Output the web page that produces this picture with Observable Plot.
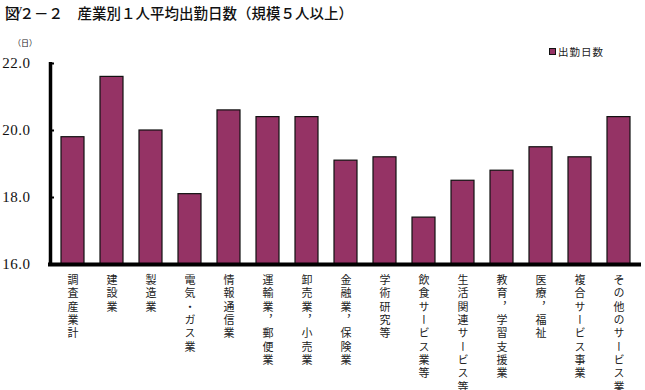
<!DOCTYPE html>
<html><head><meta charset="utf-8">
<script src="https://cdn.jsdelivr.net/npm/d3@7"></script>
<script src="https://cdn.jsdelivr.net/npm/@observablehq/plot@0.6"></script>
<style>
body{margin:0;background:#fff;}
#wrap{position:relative;width:645px;height:390px;overflow:hidden;}
#title{position:absolute;left:5px;top:2px;font:500 14.5px "Noto Sans CJK JP";color:#111;white-space:nowrap;}
#unit{position:absolute;left:13px;top:37px;font:8px "Noto Sans CJK JP";color:#222;}
#legend{position:absolute;left:549px;top:44px;font:10.5px "Noto Sans CJK JP";color:#222;letter-spacing:1px;display:flex;align-items:center;}
#legend span.sw{display:inline-block;width:5px;height:5px;border:1px solid #111;background:#953365;margin-right:2px;}
</style></head>
<body><div id="wrap">
<div id="title">図２－２　産業別１人平均出勤日数（規模５人以上）</div>
<div id="unit">（日）</div>
<div id="legend"><span class="sw"></span>出勤日数</div>
</div>
<script>
const categories = ["調査産業計","建設業","製造業","電気・ガス業","情報通信業","運輸業，郵便業","卸売業，小売業","金融業，保険業","学術研究等","飲食サービス業等","生活関連サービス等","教育，学習支援業","医療，福祉","複合サービス事業","その他のサービス業"];
const days = [19.8,21.6,20.0,18.1,20.6,20.4,20.4,19.1,19.2,17.4,18.5,18.8,19.5,19.2,20.4];
const yTicks = [16,18,20,22];
const seriesName = "出勤日数";

const data = categories.map((c,i)=>({cat:c, v:days[i]}));

const leftLine = (index, scales, values, dims) => {
  const g = d3.create("svg:line")
    .attr("x1", dims.marginLeft+1.5).attr("x2", dims.marginLeft+1.5)
    .attr("y1", scales.y(22)-1).attr("y2", scales.y(16))
    .attr("stroke","#000").attr("stroke-width",3.5);
  return g.node();
};

const chart = Plot.plot({
  width:645, height:390,
  marginLeft:49, marginRight:4, marginTop:63, marginBottom:126,
  style:{background:"transparent"},
  x:{domain:categories, paddingInner:0.42, paddingOuter:0.21, axis:null},
  y:{domain:[16,22], axis:null},
  marks:[
    Plot.barY(data,{x:"cat", y1:16, y2:"v", fill:"#953365", stroke:"#111", strokeWidth:1.2}),
    Plot.ruleY([16],{stroke:"#000", strokeWidth:4, insetLeft:-1}),
    Plot.ruleY(yTicks.slice(1),{stroke:"#000", strokeWidth:2, insetRight:587}),
    leftLine,
    Plot.axisY({ticks:yTicks, tickSize:0, tickPadding:19, tickFormat:d=>d.toFixed(1), fontSize:15, fontFamily:"Liberation Serif", textAnchor:"end", fill:"#111"}),
    Plot.text(categories,{x:d=>d, frameAnchor:"bottom", dy:10, lineAnchor:"bottom", textAnchor:"start", fontSize:11, fontFamily:"Noto Sans CJK JP", fill:"#222"})
  ]
});
chart.style.position="absolute"; chart.style.left="0"; chart.style.top="0";
chart.querySelectorAll('g[aria-label="text"] text').forEach(t=>{
  t.setAttribute("writing-mode","tb");
  t.style.writingMode="vertical-rl";
  t.style.letterSpacing="2.3px";
});
chart.querySelectorAll('g[aria-label="y-axis tick label"] text').forEach(t=>{t.style.letterSpacing="0.5px";});
document.getElementById("wrap").prepend(chart);
</script>
</body></html>
